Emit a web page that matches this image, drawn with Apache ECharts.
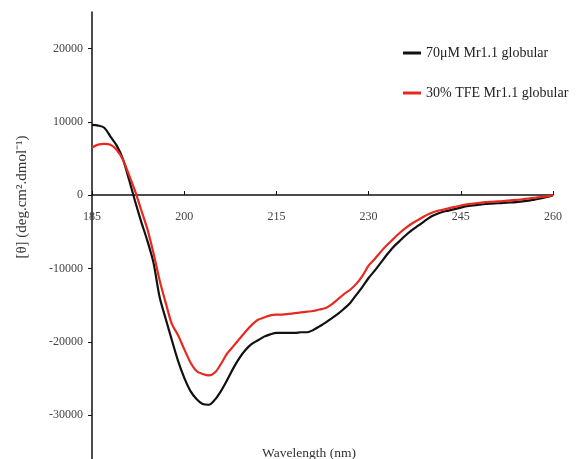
<!DOCTYPE html>
<html>
<head>
<meta charset="utf-8">
<script src="https://cdn.jsdelivr.net/npm/echarts@6/dist/echarts.min.js"></script>
<style>
  html, body { margin: 0; padding: 0; background: #fff; }
  #chart { width: 579px; height: 459px; }
</style>
</head>
<body>
<div id="chart"></div>
<script>
// wavelength (nm)
var wavelength = [];
for (var w = 185; w <= 260; w++) wavelength.push(w);

// mean residue ellipticity, one value per nm
var globular70uM = [
  9600, 9500, 9200, 8000, 6800, 5000, 2200, -800, -3600, -6200,
  -9200, -13900, -16900, -19800, -22600, -24900, -26700, -27800, -28500, -28600,
  -27900, -26700, -25200, -23600, -22200, -21100, -20300, -19800, -19300, -19000,
  -18800, -18800, -18800, -18800, -18700, -18700, -18400, -17900, -17400, -16800,
  -16200, -15500, -14700, -13600, -12500, -11300, -10300, -9200, -8100, -7100,
  -6300, -5500, -4800, -4200, -3600, -3000, -2600, -2300, -2100, -1900,
  -1700, -1500, -1400, -1300, -1200, -1150, -1100, -1050, -1000, -950,
  -850, -750, -600, -450, -250, 0
];
var tfe30 = [
  6500, 6900, 7000, 6900, 6200, 4900, 2800, 600, -2000, -4600,
  -7900, -11600, -14700, -17600, -19100, -21000, -22800, -24000, -24400, -24600,
  -24200, -23000, -21600, -20600, -19600, -18600, -17700, -17000, -16700, -16400,
  -16300, -16300, -16200, -16100, -16000, -15900, -15800, -15600, -15400, -14900,
  -14200, -13500, -12900, -12100, -11000, -9600, -8700, -7700, -6800, -6000,
  -5200, -4500, -3900, -3400, -2900, -2500, -2200, -2000, -1800, -1600,
  -1400, -1250, -1150, -1050, -950, -900, -850, -800, -700, -650,
  -550, -450, -350, -250, -150, 0
];
var seriesNames = ['70μM Mr1.1 globular', '30% TFE Mr1.1 globular'];
var xTicks = [185, 200, 215, 230, 245, 260];
var yTicks = [-30000, -20000, -10000, 0, 10000, 20000];

function pairs(ys) {
  return wavelength.map(function (x, i) { return [x, ys[i]]; });
}

var serif = 'Liberation Serif';
var chart = echarts.init(document.getElementById('chart'));
chart.setOption({
  animation: false,
  backgroundColor: '#fff',
  title: {
    text: 'Wavelength (nm)',
    left: 304,
    top: 441,
    textAlign: 'center',
    textStyle: { fontFamily: serif, fontSize: 13.5, fontWeight: 'normal', color: '#333' }
  },
  legend: {
    orient: 'vertical',
    left: 398,
    top: 41,
    itemGap: 26,
    itemWidth: 18,
    itemHeight: 3,
    icon: 'rect',
    data: seriesNames,
    textStyle: { fontFamily: serif, fontSize: 14, color: '#222' }
  },
  grid: { left: 92, right: 26, top: 12, bottom: 0, containLabel: false, outerBoundsMode: 'none' },
  xAxis: {
    type: 'value',
    min: 185,
    max: 260,
    position: 'bottom',
    offset: -264, // puts the wavelength axis on the zero line
    axisLine: { onZero: false, lineStyle: { color: '#111', width: 1.5 } },
    axisTick: { inside: true, length: 4, customValues: xTicks, lineStyle: { color: '#111' } },
    axisLabel: {
      customValues: xTicks, margin: 16, fontFamily: serif, fontSize: 12, color: '#444',
      formatter: function (v) { return String(v); }
    },
    splitLine: { show: false }
  },
  yAxis: {
    type: 'value',
    min: -36000,
    max: 25000,
    axisLine: { show: true, onZero: false, lineStyle: { color: '#111', width: 1.5 } },
    axisTick: { show: true, length: 4, customValues: yTicks, lineStyle: { color: '#111' } },
    axisLabel: {
      customValues: yTicks, margin: 9, fontFamily: serif, fontSize: 12, color: '#444',
      formatter: function (v) { return String(v); }
    },
    splitLine: { show: false }
  },
  graphic: [{
    type: 'text',
    x: 22,
    y: 197,
    rotation: Math.PI / 2,
    style: {
      text: '[θ] (deg.cm².dmol⁻¹)',
      font: '15px "Liberation Serif"',
      fill: '#333',
      align: 'center',
      verticalAlign: 'middle'
    }
  }],
  series: [
    {
      name: seriesNames[0],
      type: 'line',
      data: pairs(globular70uM),
      showSymbol: false,
      smooth: 0.3,
      lineStyle: { color: '#111', width: 2.2 },
      itemStyle: { color: '#111' },
      z: 3
    },
    {
      name: seriesNames[1],
      type: 'line',
      data: pairs(tfe30),
      showSymbol: false,
      smooth: 0.3,
      lineStyle: { color: '#e8291f', width: 2.2 },
      itemStyle: { color: '#e8291f' },
      z: 4
    }
  ]
});
</script>
</body>
</html>
